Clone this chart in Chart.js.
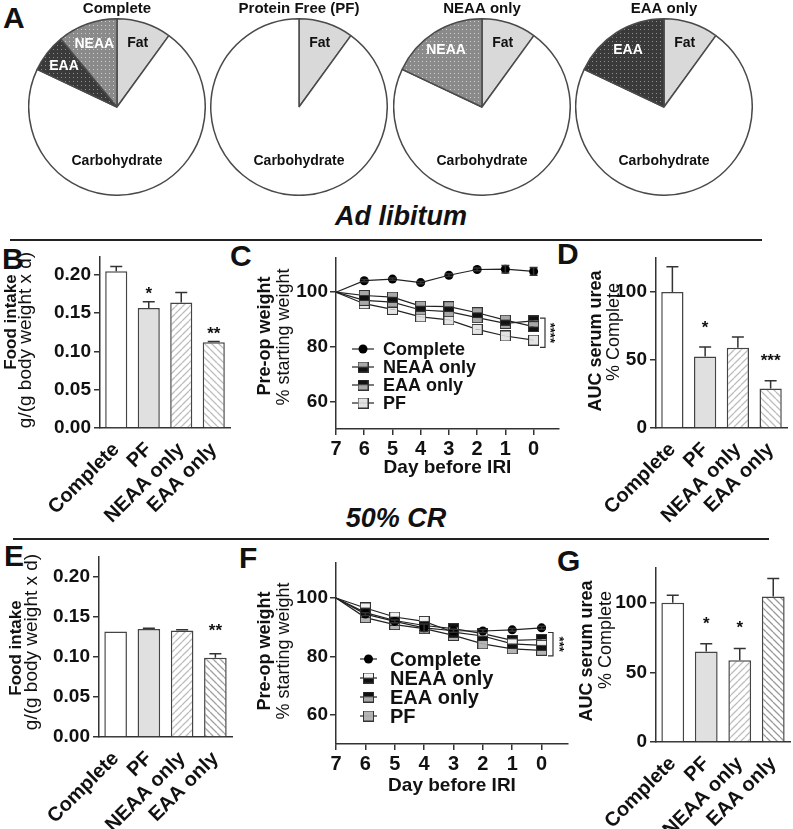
<!DOCTYPE html>
<html>
<head>
<meta charset="utf-8">
<script src="https://cdn.jsdelivr.net/npm/chart.js@4.4.0/dist/chart.umd.min.js"></script>
<style>
  body { margin: 0; width: 793px; height: 829px; overflow: hidden; position: relative; background: #fff;
         font-family: "Liberation Sans", Arial, sans-serif; color: #111; }
  canvas { position: absolute; }
  .txt { position: absolute; font-weight: bold; line-height: 1; white-space: nowrap; }
  .letter { font-size: 30px; }
  .head { font-size: 27px; font-style: italic; width: 240px; text-align: center; }
  .rule { position: absolute; height: 2px; background: #222; }
</style>
</head>
<body>
<div class="txt letter" style="left:3px;top:3px">A</div>
<div class="txt letter" style="left:2px;top:244px">B</div>
<div class="txt letter" style="left:230px;top:241px">C</div>
<div class="txt letter" style="left:557px;top:239px">D</div>
<div class="txt letter" style="left:4px;top:541px">E</div>
<div class="txt letter" style="left:239px;top:543px">F</div>
<div class="txt letter" style="left:557px;top:546px">G</div>

<div class="txt head" style="left:281px;top:203px">Ad libitum</div>
<div class="rule" style="left:10px;top:239px;width:752px"></div>
<div class="txt head" style="left:276px;top:505px">50% CR</div>
<div class="rule" style="left:13px;top:538px;width:756px"></div>

<canvas id="pie1" width="178" height="196" style="left:28px;top:0"></canvas>
<canvas id="pie2" width="178" height="196" style="left:210px;top:0"></canvas>
<canvas id="pie3" width="178" height="196" style="left:393px;top:0"></canvas>
<canvas id="pie4" width="178" height="196" style="left:575px;top:0"></canvas>

<canvas id="foodAdLib" width="236" height="290" style="left:0;top:237px"></canvas>
<canvas id="weightAdLib" width="325" height="241" style="left:250px;top:238px"></canvas>
<canvas id="ureaAdLib" width="213" height="289" style="left:580px;top:238px"></canvas>

<canvas id="foodCR" width="238" height="292" style="left:0;top:537px"></canvas>
<canvas id="weightCR" width="334" height="254" style="left:250px;top:543px"></canvas>
<canvas id="ureaCR" width="226" height="281" style="left:570px;top:548px"></canvas>

<script>
const FONT = '"Liberation Sans", Arial, sans-serif';
Chart.defaults.font.family = FONT;
Chart.defaults.color = '#111';
Chart.defaults.animation = false;
Chart.defaults.plugins.legend.display = false;
Chart.defaults.plugins.tooltip.enabled = false;

// ---------- data ----------
const pieParts = ['Fat', 'Carbohydrate', 'EAA', 'NEAA'];
const pieComplete = [10, 72, 7, 11];
const pieProteinFree = [10, 90, 0, 0];
const pieNeaaOnly = [10, 72, 0, 18];
const pieEaaOnly = [10, 72, 18, 0];

const diets = ['Complete', 'PF', 'NEAA only', 'EAA only'];
const foodTicks = [0, 0.05, 0.10, 0.15, 0.20];
const ureaTicks = [0, 50, 100];
const weightTicks = [60, 80, 100];

// ad libitum
const foodAdLib = [0.205, 0.157, 0.164, 0.112];
const foodAdLibErr = [0.006, 0.008, 0.013, 0.001];
const foodAdLibStars = ['', '*', '', '**'];
const ureaAdLib = [100, 52.5, 59, 29];
const ureaAdLibErr = [18.5, 7, 8, 5.8];
const ureaAdLibStars = ['', '*', '', '***'];

// 50% caloric restriction
const foodCR = [0.132, 0.135, 0.133, 0.099];
const foodCRErr = [0, 0.001, 0.001, 0.005];
const foodCRStars = ['', '', '', '**'];
const ureaCR = [100, 65, 58.8, 104.5];
const ureaCRErr = [5.5, 5.5, 8.3, 13];
const ureaCRStars = ['', '*', '*', ''];

const days = [7, 6, 5, 4, 3, 2, 1, 0];
const weightAdLibComplete = [100, 104.2, 104.8, 103.5, 106.2, 108.3, 108.4, 107.6];
const weightAdLibCompleteErr = [0, 0.4, 0.4, 0.4, 0.5, 0.5, 1.4, 1.4];
const weightAdLibNeaa = [100, 98.8, 98.2, 94.9, 94.7, 92.5, 89.8, 87.4];
const weightAdLibEaa = [100, 97.0, 96.4, 93.5, 92.9, 90.7, 88.6, 89.5];
const weightAdLibPF = [100, 95.8, 93.7, 91.0, 89.9, 86.4, 84.0, 82.5];

const weightCRComplete = [100, 94.5, 92.0, 89.8, 88.8, 88.7, 89.1, 89.8];
const weightCRCompleteErr = [0, 0.5, 0.5, 1.3, 0.5, 0.5, 0.5, 0.5];
const weightCRNeaa = [100, 96.6, 93.5, 92.0, 88.3, 87.0, 84.3, 83.8];
const weightCREaa = [100, 95.0, 92.3, 90.6, 89.5, 87.8, 85.5, 85.8];
const weightCRPF = [100, 93.3, 90.9, 89.5, 87.2, 84.3, 82.6, 82.1];

// ---------- fills ----------
const scratch = document.createElement('canvas').getContext('2d');

function hatch(color, dir) {
  const s = 7;
  const c = document.createElement('canvas');
  c.width = c.height = s;
  const g = c.getContext('2d');
  g.fillStyle = '#fff';
  g.fillRect(0, 0, s, s);
  g.strokeStyle = color;
  g.lineWidth = 1.3;
  g.beginPath();
  for (let k = -1; k <= 1; k++) {
    if (dir > 0) { g.moveTo(k * s, s); g.lineTo(k * s + s, 0); }
    else { g.moveTo(k * s, 0); g.lineTo(k * s + s, s); }
  }
  g.stroke();
  return scratch.createPattern(c, 'repeat');
}

function dots(back, dot) {
  const c = document.createElement('canvas');
  c.width = c.height = 4;
  const g = c.getContext('2d');
  g.fillStyle = back;
  g.fillRect(0, 0, 4, 4);
  g.fillStyle = dot;
  g.fillRect(1, 1, 1, 1);
  return scratch.createPattern(c, 'repeat');
}

function square(top, bottom) {
  const c = document.createElement('canvas');
  c.width = c.height = 11;
  const g = c.getContext('2d');
  g.fillStyle = top;
  g.fillRect(0.5, 0.5, 10, 5);
  g.fillStyle = bottom;
  g.fillRect(0.5, 5.5, 10, 5);
  g.strokeStyle = '#333';
  g.lineWidth = 1;
  g.strokeRect(0.5, 0.5, 10, 10);
  return c;
}

// ---------- plugins ----------
const pieText = {
  id: 'pieText',
  afterDatasetsDraw(chart) {
    const {ctx} = chart;
    const meta = chart.getDatasetMeta(0);
    ctx.save();
    ctx.font = 'bold 14px ' + FONT;
    ctx.textAlign = 'center';
    ctx.textBaseline = 'middle';
    meta.data.forEach((arc, i) => {
      const v = chart.data.datasets[0].data[i];
      if (!v) return;
      let a = (arc.startAngle + arc.endAngle) / 2;
      let r = arc.outerRadius * 0.76;
      if (v > 50) { a = Math.PI / 2; r = arc.outerRadius * 0.61; }
      ctx.fillStyle = (pieParts[i] === 'EAA' || pieParts[i] === 'NEAA') ? '#fff' : '#111';
      ctx.fillText(pieParts[i], arc.x + Math.cos(a) * r, arc.y + Math.sin(a) * r);
    });
    ctx.restore();
  }
};

const axisTitle = {
  id: 'axisTitle',
  afterDraw(chart, args, o) {
    const {ctx, canvas} = chart;
    ctx.save();
    ctx.fillStyle = '#111';
    ctx.textAlign = 'center';
    ctx.textBaseline = 'middle';
    (o.lines || []).forEach(([text, font, cx, cy]) => {
      ctx.save();
      ctx.font = font + ' ' + FONT;
      ctx.translate(cx - canvas.offsetLeft, cy - canvas.offsetTop);
      ctx.rotate(-Math.PI / 2);
      ctx.fillText(text, 0, 0);
      ctx.restore();
    });
    ctx.restore();
  }
};

const errorBars = {
  id: 'errorBars',
  afterDatasetsDraw(chart) {
    const {ctx} = chart;
    const y = chart.scales.y;
    const isBar = chart.config.type === 'bar';
    ctx.save();
    ctx.strokeStyle = '#333';
    ctx.lineWidth = 1.5;
    chart.data.datasets.forEach((ds, di) => {
      if (!ds.errors) return;
      chart.getDatasetMeta(di).data.forEach((el, i) => {
        const e = ds.errors[i];
        if (!e) return;
        const v = isBar ? ds.data[i] : ds.data[i].y;
        const top = y.getPixelForValue(v + e);
        const bottom = isBar ? el.y : y.getPixelForValue(v - e);
        const w = isBar ? 6 : 4;
        ctx.beginPath();
        ctx.moveTo(el.x, bottom); ctx.lineTo(el.x, top);
        ctx.moveTo(el.x - w, top); ctx.lineTo(el.x + w, top);
        if (!isBar) { ctx.moveTo(el.x - w, bottom); ctx.lineTo(el.x + w, bottom); }
        ctx.stroke();
      });
    });
    ctx.restore();
  }
};

const starMarks = {
  id: 'starMarks',
  afterDatasetsDraw(chart, args, o) {
    const {ctx} = chart;
    const y = chart.scales.y;
    const ds = chart.data.datasets[0];
    ctx.save();
    ctx.font = 'bold 17px ' + FONT;
    ctx.fillStyle = '#111';
    ctx.textAlign = 'center';
    ctx.textBaseline = 'alphabetic';
    chart.getDatasetMeta(0).data.forEach((el, i) => {
      if (!ds.stars[i]) return;
      const top = y.getPixelForValue(ds.data[i] + (ds.errors[i] || 0));
      ctx.fillText(ds.stars[i], el.x, top - o.gap + 0.57 * 17);
    });
    ctx.restore();
  }
};

function drawMarker(ctx, style, x, y, r) {
  if (style instanceof HTMLCanvasElement) {
    ctx.drawImage(style, x - style.width / 2, y - style.height / 2);
  } else {
    ctx.fillStyle = '#000';
    ctx.beginPath();
    ctx.arc(x, y, r, 0, Math.PI * 2);
    ctx.fill();
  }
}

const lineLegend = {
  id: 'lineLegend',
  afterDraw(chart, args, o) {
    const {ctx, chartArea} = chart;
    ctx.save();
    ctx.font = 'bold ' + o.size + 'px ' + FONT;
    ctx.textBaseline = 'middle';
    chart.data.datasets.forEach((ds, i) => {
      const x = chartArea.left + o.x;
      const y = chartArea.top + o.y + i * o.dy;
      ctx.strokeStyle = '#222';
      ctx.lineWidth = 1.2;
      ctx.beginPath();
      ctx.moveTo(x, y); ctx.lineTo(x + o.len, y);
      ctx.stroke();
      drawMarker(ctx, ds.pointStyle, x + o.len / 2, y, 4.5);
      ctx.fillStyle = '#111';
      ctx.fillText(ds.label, x + o.text, y + 1);
    });
    ctx.restore();
  }
};

const bracket = {
  id: 'bracket',
  afterDraw(chart, args, o) {
    const {ctx, chartArea} = chart;
    const y = chart.scales.y;
    const y1 = y.getPixelForValue(o.from), y2 = y.getPixelForValue(o.to);
    const x = chartArea.right + o.x;
    ctx.save();
    ctx.strokeStyle = '#333';
    ctx.lineWidth = 1.2;
    ctx.beginPath();
    ctx.moveTo(x, y1); ctx.lineTo(x + 5, y1); ctx.lineTo(x + 5, y2); ctx.lineTo(x, y2);
    ctx.stroke();
    ctx.translate(x + o.textX, (y1 + y2) / 2);
    ctx.rotate(Math.PI / 2);
    ctx.font = 'bold 13px ' + FONT;
    ctx.fillStyle = '#111';
    ctx.textAlign = 'center';
    ctx.textBaseline = 'middle';
    ctx.fillText(o.text, 0, 4);
    ctx.restore();
  }
};

// ---------- pies ----------
const neaaDots = dots('#8a8a8a', '#cfcfcf');
const eaaDots = dots('#3a3a3a', '#909090');

function pieChart(id, title, values) {
  new Chart(document.getElementById(id), {
    type: 'pie',
    data: {
      labels: pieParts,
      datasets: [{
        data: values,
        backgroundColor: ['#d9d9d9', '#ffffff', eaaDots, neaaDots],
        borderColor: '#4a4a4a',
        borderWidth: 1.5
      }]
    },
    options: {
      responsive: false,
      layout: { padding: 0 },
      plugins: {
        title: { display: true, text: title, color: '#111', font: { size: 15, weight: 'bold' }, padding: { top: 0, bottom: 0 } }
      }
    },
    plugins: [pieText]
  });
}

pieChart('pie1', 'Complete', pieComplete);
pieChart('pie2', 'Protein Free (PF)', pieProteinFree);
pieChart('pie3', 'NEAA only', pieNeaaOnly);
pieChart('pie4', 'EAA only', pieEaaOnly);

// ---------- bar panels ----------
const axisLine = { color: '#333', width: 1.5 };

function barChart(id, values, errors, stars, opt) {
  return new Chart(document.getElementById(id), {
    type: 'bar',
    data: {
      labels: diets,
      datasets: [{
        data: values,
        errors: errors,
        stars: stars,
        backgroundColor: ['#ffffff', '#e0e0e0', hatch(opt.hatchNeaa, 1), hatch(opt.hatchEaa, -1)],
        borderColor: '#444',
        borderWidth: 1.5,
        barPercentage: 0.68,
        categoryPercentage: 1
      }]
    },
    options: {
      responsive: false,
      layout: { padding: { top: 20, right: 6, left: 0, bottom: 0 } },
      scales: {
        x: {
          grid: { display: false },
          border: axisLine,
          ticks: { autoSkip: false, minRotation: 45, maxRotation: 45, padding: 2, color: '#111',
                   font: { size: 20, weight: 'bold' } },
          afterFit: s => { s.height = opt.xh; }
        },
        y: {
          min: 0,
          max: opt.max,
          grid: { drawOnChartArea: false, tickLength: 6, color: '#333', lineWidth: 1.5 },
          border: axisLine,
          ticks: { padding: 3, color: '#111', font: { size: 19, weight: 'bold' },
                   callback: v => v.toFixed(opt.digits) },
          afterBuildTicks: s => { s.ticks = opt.ticks.map(v => ({ value: v })); },
          afterFit: s => { s.width = opt.yw; }
        }
      },
      plugins: {
        axisTitle: { lines: opt.titles },
        starMarks: { gap: opt.gap }
      }
    },
    plugins: [axisTitle, errorBars, starMarks]
  });
}

barChart('foodAdLib', foodAdLib, foodAdLibErr, foodAdLibStars, {
  max: 0.2235, ticks: foodTicks, digits: 2, yw: 100, xh: 99, gap: 12,
  hatchNeaa: '#bdbdbd', hatchEaa: '#bdbdbd',
  titles: [['Food intake', 'bold 17px', 11, 322], ['g/(g body weight x d)', '19px', 26, 340]]
});
barChart('ureaAdLib', ureaAdLib, ureaAdLibErr, ureaAdLibStars, {
  max: 125, ticks: ureaTicks, digits: 0, yw: 76, xh: 99, gap: 24,
  hatchNeaa: '#bdbdbd', hatchEaa: '#bdbdbd',
  titles: [['AUC serum urea', 'bold 18px', 596, 341], ['% Complete', '18px', 614, 332]]
});
barChart('foodCR', foodCR, foodCRErr, foodCRStars, {
  max: 0.225, ticks: foodTicks, digits: 2, yw: 99, xh: 92, gap: 27,
  hatchNeaa: '#bdbdbd', hatchEaa: '#a0a0a0',
  titles: [['Food intake', 'bold 17px', 16, 648], ['g/(g body weight x d)', '19px', 32, 642]]
});
barChart('ureaCR', ureaCR, ureaCRErr, ureaCRStars, {
  max: 125, ticks: ureaTicks, digits: 0, yw: 86, xh: 87, gap: 25,
  hatchNeaa: '#bdbdbd', hatchEaa: '#999999',
  titles: [['AUC serum urea', 'bold 18px', 587, 651], ['% Complete', '18px', 606, 640]]
});

// ---------- weight panels ----------
function series(label, vals, marker, errors) {
  return {
    label: label,
    data: days.map((d, i) => ({ x: d, y: vals[i] })),
    errors: errors,
    borderColor: '#222',
    borderWidth: 1.2,
    pointStyle: marker,
    pointRadius: days.map(d => (d === 7 ? 0 : 4.5)),
    pointBackgroundColor: '#000',
    pointBorderColor: '#000',
    pointBorderWidth: 0,
    clip: false
  };
}

function lineChart(id, sets, opt) {
  return new Chart(document.getElementById(id), {
    type: 'line',
    data: { datasets: sets },
    options: {
      responsive: false,
      layout: { padding: { top: 20, right: 16, left: 0, bottom: 0 } },
      scales: {
        x: {
          type: 'linear',
          reverse: true,
          min: -0.9,
          max: 7,
          grid: { drawOnChartArea: false, tickLength: 6, color: '#333', lineWidth: 1.5 },
          border: axisLine,
          ticks: { padding: 2, color: '#111', font: { size: 20, weight: 'bold' } },
          afterBuildTicks: s => { s.ticks = days.map(v => ({ value: v })); },
          title: { display: true, text: 'Day before IRI', color: '#111', font: { size: 19, weight: 'bold' },
                   padding: { top: 0, bottom: 0 } },
          afterFit: s => { s.height = opt.xh; }
        },
        y: {
          min: 50,
          max: opt.max,
          grid: { drawOnChartArea: false, tickLength: 6, color: '#333', lineWidth: 1.5 },
          border: axisLine,
          ticks: { padding: 2, color: '#111', font: { size: 19, weight: 'bold' } },
          afterBuildTicks: s => { s.ticks = weightTicks.map(v => ({ value: v })); },
          afterFit: s => { s.width = 86; }
        }
      },
      plugins: {
        axisTitle: { lines: opt.titles },
        lineLegend: opt.legend,
        bracket: opt.bracket
      }
    },
    plugins: [axisTitle, errorBars, lineLegend, bracket]
  });
}

lineChart('weightAdLib', [
  series('Complete', weightAdLibComplete, 'circle', weightAdLibCompleteErr),
  series('NEAA only', weightAdLibNeaa, square('#a8a8a8', '#111')),
  series('EAA only', weightAdLibEaa, square('#111', '#a8a8a8')),
  series('PF', weightAdLibPF, square('#e4e4e4', '#e4e4e4'))
], {
  max: 112.5, xh: 50,
  titles: [['Pre-op weight', 'bold 18px', 265, 336], ['% starting weight', '18px', 284, 337]],
  legend: { x: 16, y: 91, dy: 18, len: 22, text: 31, size: 18 },
  bracket: { from: 90.5, to: 79.8, x: -19, textX: 14, text: '****' }
});

lineChart('weightCR', [
  series('Complete', weightCRComplete, 'circle', weightCRCompleteErr),
  series('NEAA only', weightCRNeaa, square('#f2f2f2', '#111')),
  series('EAA only', weightCREaa, square('#111', '#a8a8a8')),
  series('PF', weightCRPF, square('#b4b4b4', '#b4b4b4'))
], {
  max: 112, xh: 53,
  titles: [['Pre-op weight', 'bold 18px', 265, 651], ['% starting weight', '18px', 284, 651]],
  legend: { x: 24, y: 96, dy: 19, len: 17, text: 30, size: 20 },
  bracket: { from: 88.2, to: 80.2, x: -20, textX: 15, text: '***' }
});
</script>
</body>
</html>
